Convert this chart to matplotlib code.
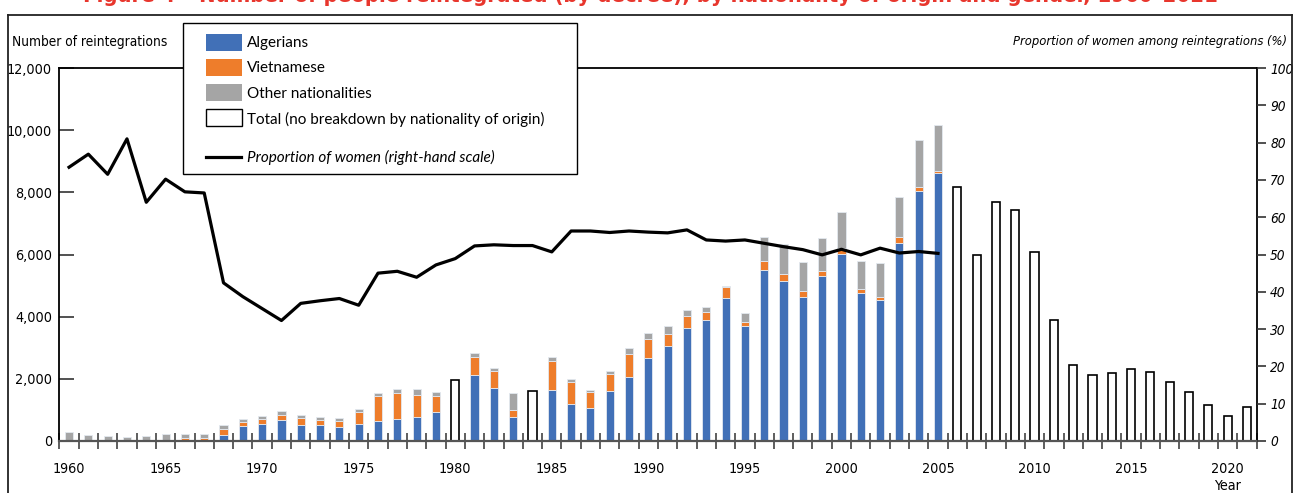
import matplotlib
matplotlib.use("Agg")
import matplotlib.pyplot as plt
from matplotlib.patches import Rectangle
from matplotlib.lines import Line2D
from matplotlib import font_manager
import numpy as np

W, H = 1294, 493
def fx(x): return x / W
def fy(y): return 1 - y / H

names = {f.name for f in font_manager.fontManager.ttflist}
cond = [f.name for f in font_manager.fontManager.ttflist if f.stretch in ('condensed', 'semi-condensed', 'extra-condensed', 750, 700, 600)]
NARROW_NAME = 'Liberation Sans Narrow' if 'Liberation Sans Narrow' in names else ('DejaVu Sans' if 'DejaVu Sans' in cond else 'Roboto')
NARROW = [NARROW_NAME, 'DejaVu Sans']
REG = ['Lato', 'DejaVu Sans']

years_breakdown = list(range(1960, 2006))
algerians = [0, 0, 0, 0, 0, 0, 0, 0, 205, 480, 545, 665, 515, 515, 450, 545, 630, 695, 785, 935,
             None, 2120, 1705, 785, None, 1640, 1190, 1060, 1610, 2060, 2670, 3055, 3635, 3880, 4590, 3700,
             5500, 5140, 4620, 5320, 6030, 4770, 4540, 6385, 8050, 8630]
vietnamese = [40, 15, 15, 15, 35, 35, 90, 90, 180, 120, 150, 170, 235, 150, 180, 390, 815, 850, 695, 510,
              None, 580, 535, 215, None, 935, 720, 515, 555, 740, 610, 400, 375, 270, 365, 130,
              300, 245, 215, 160, 180, 130, 85, 170, 130, 65]
other = [240, 165, 135, 100, 115, 175, 120, 150, 140, 100, 95, 140, 85, 105, 100, 105, 105, 130, 190, 140,
         None, 120, 110, 555, None, 140, 75, 65, 85, 180, 185, 255, 215, 160, 20, 280,
         750, 945, 910, 1040, 1150, 880, 1090, 1300, 1495, 1465]

years_total = [1980, 1984] + list(range(2006, 2022))
totals = [1970, 1620, 8170, 6000, 7680, 7430, 6095, 3905, 2445, 2115, 2200, 2330, 2230, 1900, 1565, 1170, 815, 1085]

years_prop = list(range(1960, 2006))
prop_women = [73.4, 76.9, 71.5, 81.0, 64.0, 70.2, 66.8, 66.5, 42.4, 38.7, 35.5, 32.3, 36.9, 37.6, 38.2, 36.4,
              45.0, 45.5, 43.9, 47.2, 48.9, 52.3, 52.6, 52.4, 52.4, 50.7, 56.3, 56.3, 55.9, 56.3, 56.0, 55.8,
              56.6, 53.9, 53.6, 53.9, 53.0, 52.1, 51.3, 49.9, 51.4, 49.9, 51.7, 50.4, 50.8, 50.3]

left_ticks = [0, 2000, 4000, 6000, 8000, 10000, 12000]
right_ticks = list(range(0, 101, 10))
year_labels = list(range(1960, 2021, 5))

C_ALG = '#4170b7'
C_VIE = '#ee7d2b'
C_OTH = '#a5a5a5'

TK = dict(family=NARROW, fontstretch='condensed', fontsize=10.3)

fig = plt.figure(figsize=(W / 100, H / 100), dpi=100)
ax = fig.add_axes([fx(59), fy(441), (1257 - 59) / W, (441 - 68) / H])

bw = 0.42
yb = [y for y, a in zip(years_breakdown, algerians) if a is not None]
a = np.array([v for v in algerians if v is not None], float)
v = np.array([x for x in vietnamese if x is not None], float)
o = np.array([x for x in other if x is not None], float)
ek = dict(edgecolor='#e4e9f0', linewidth=0.6)
ax.bar(yb, a, bw, color=C_ALG, zorder=2, **ek)
ax.bar(yb, v, bw, bottom=a, color=C_VIE, zorder=2, **ek)
ax.bar(yb, o, bw, bottom=a + v, color=C_OTH, zorder=2, **ek)
ax.bar(years_total, totals, bw, color='white', edgecolor='black', linewidth=1.2, zorder=2)

ax.set_xlim(1959.48, 2021.52)
ax.set_ylim(0, 12000)
ax.set_yticks(left_ticks)
ax.set_yticklabels([f"{t:,}" for t in left_ticks], **TK)
ax.tick_params(axis='y', direction='in', length=11, width=1.2, color='#333333', pad=5)
ax.set_xticks(year_labels)
ax.set_xticklabels([str(y) for y in year_labels], **TK)
ax.tick_params(axis='x', which='major', length=0, pad=15)
ax.set_xticks(np.arange(1959.5, 2022, 1.0), minor=True)
ax.tick_params(axis='x', which='minor', direction='inout', length=11, width=1.1, color='#333333')

for s in ['left', 'top', 'right']:
    ax.spines[s].set_linewidth(1.3)
    ax.spines[s].set_color('black')
ax.spines['bottom'].set_color('#555555')
ax.spines['bottom'].set_linewidth(1.6)

ax2 = ax.twinx()
ax2.plot(years_prop, prop_women, color='black', linewidth=2.3, zorder=5)
ax2.set_ylim(0, 100)
ax2.set_yticks(right_ticks)
ax2.set_yticklabels([str(t) for t in right_ticks], style='italic', family=NARROW,
                    fontstretch='condensed', fontsize=9.8)
ax2.tick_params(axis='y', direction='out', length=6.5, width=1.2, color='#333333', pad=3)
for s in ax2.spines.values():
    s.set_visible(False)

# axis titles
AT = dict(family=NARROW, fontstretch='condensed')
fig.text(fx(12), fy(42), "Number of reintegrations", va='center', ha='left', fontsize=9.8, **AT)
fig.text(fx(1287), fy(42), "Proportion of women among reintegrations (%)", style='italic',
         va='center', ha='right', fontsize=9.3, **AT)
fig.text(fx(1228), fy(486), "Year", va='center', ha='center', fontsize=10.3, **AT)

# title (cut off at top, as in the source)
fig.text(fx(650), fy(1.5), "Figure 4 – Number of people reintegrated (by decree), by nationality of origin and gender, 1960–2021",
         family=NARROW, fontstretch='condensed', fontsize=15.8, fontweight='bold', color='#e8362d',
         ha='center', va='baseline')

# frame
fig.add_artist(Line2D([fx(8), fx(1292)], [fy(15), fy(15)], color='#222222', lw=1.3, transform=fig.transFigure))
fig.add_artist(Line2D([fx(8), fx(8)], [fy(15), 0], color='#222222', lw=1.3, transform=fig.transFigure))
fig.add_artist(Line2D([fx(1292), fx(1292)], [fy(15), 0], color='#222222', lw=1.3, transform=fig.transFigure))

# legend box
def rect(x0, y0, x1, y1, **kw):
    fig.add_artist(Rectangle((fx(x0), fy(y1)), fx(x1) - fx(x0), fy(y0) - fy(y1), transform=fig.transFigure, **kw))

rect(183, 23, 577, 174, facecolor='white', edgecolor='black', linewidth=1.0, zorder=10)
entries = [("Algerians", C_ALG, 34, 51, 43),
           ("Vietnamese", C_VIE, 59, 76, 68),
           ("Other nationalities", C_OTH, 84, 101, 94)]
LG = dict(family=REG, fontsize=11, va='center', ha='left', zorder=12)
for lab, col, y0, y1, yt in entries:
    rect(206, y0, 242, y1, facecolor=col, edgecolor='none', zorder=11)
    fig.text(fx(247), fy(yt), lab, **LG)
rect(206, 109, 242, 126, facecolor='white', edgecolor='black', linewidth=1.0, zorder=11)
fig.text(fx(247), fy(119), "Total (no breakdown by nationality of origin)", **LG)
fig.add_artist(Line2D([fx(206), fx(241)], [fy(157), fy(157)], color='black', lw=2.3,
                      transform=fig.transFigure, zorder=11))
fig.text(fx(247), fy(157), "Proportion of women (right-hand scale)", style='italic', **LG)

fig.savefig("out.png", dpi=100)
